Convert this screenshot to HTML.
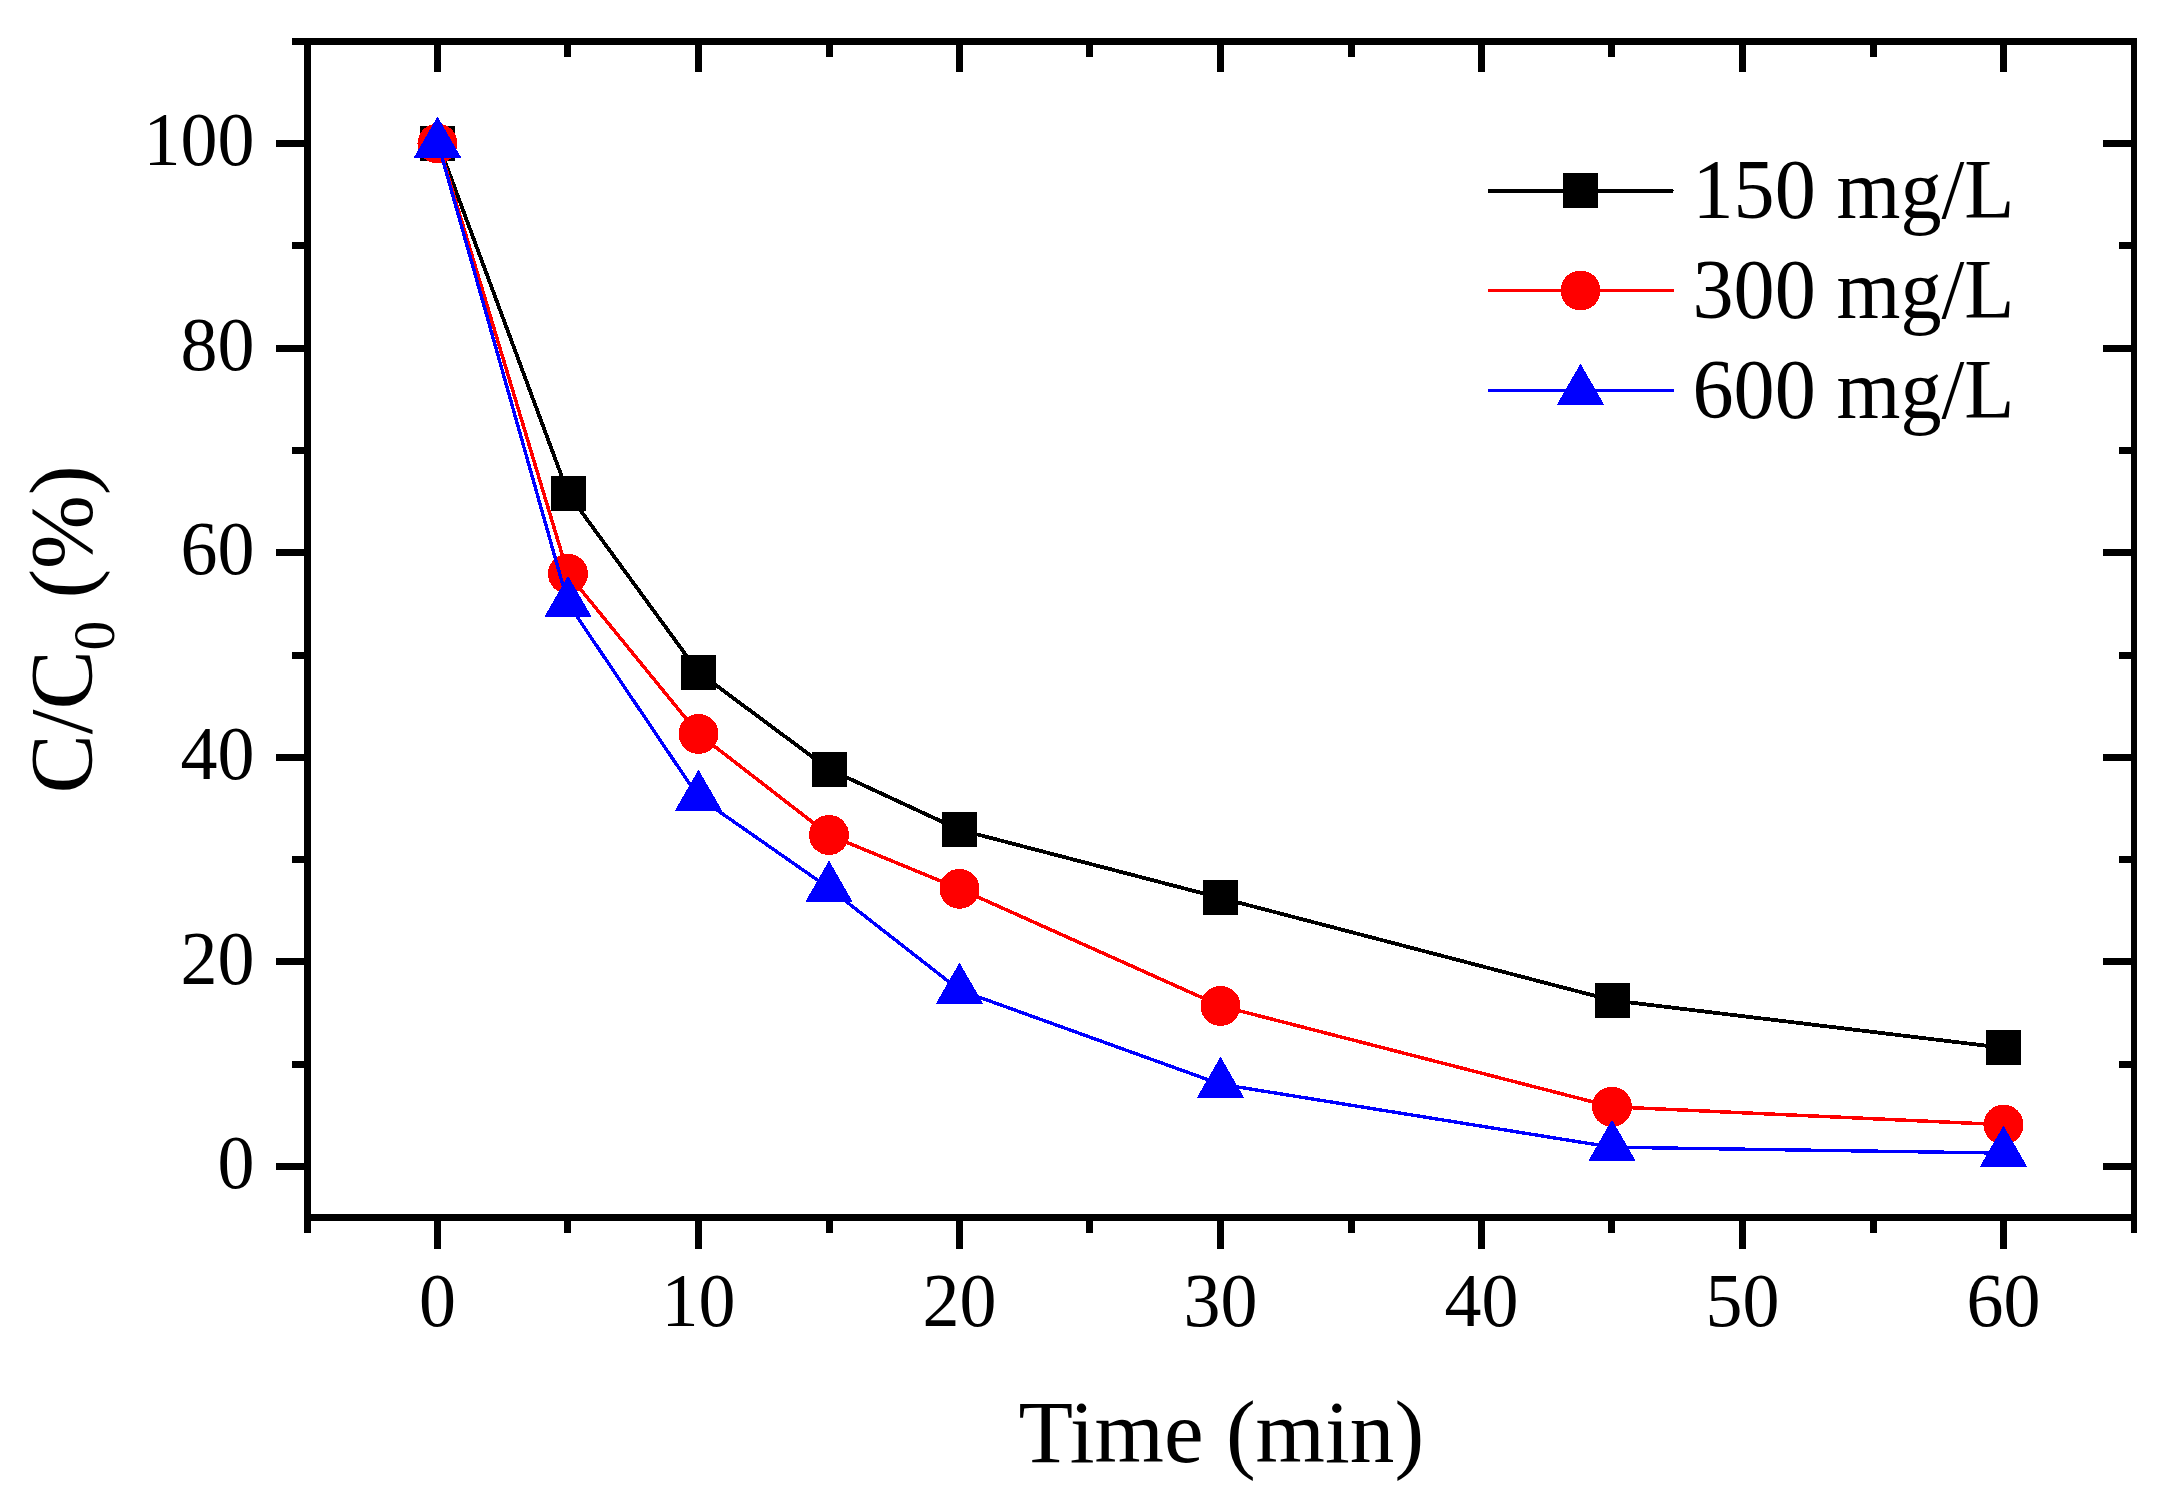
<!DOCTYPE html>
<html><head><meta charset="utf-8"><title>C/C0 vs Time</title>
<style>html,body{margin:0;padding:0;background:#fff}svg{display:block}text{font-family:"Liberation Serif","Times New Roman",serif;fill:#000}</style></head><body>
<svg width="2179" height="1507" viewBox="0 0 2179 1507">
<rect width="2179" height="1507" fill="#fff"/>
<g shape-rendering="crispEdges">
<polyline points="438.3,143.5 568.0,493.3 698.5,672.2 829.0,769.2 959.5,829.8 1220.5,897.9 1612.0,1000.3 2003.5,1047.8" fill="none" stroke="#000" stroke-width="3.8" stroke-linejoin="round"/>
<rect x="420.0" y="126.0" width="35" height="35" fill="#000"/>
<rect x="550.5" y="475.8" width="35" height="35" fill="#000"/>
<rect x="681.0" y="654.7" width="35" height="35" fill="#000"/>
<rect x="811.5" y="751.7" width="35" height="35" fill="#000"/>
<rect x="942.0" y="812.3" width="35" height="35" fill="#000"/>
<rect x="1203.0" y="880.4" width="35" height="35" fill="#000"/>
<rect x="1594.5" y="982.8" width="35" height="35" fill="#000"/>
<rect x="1986.0" y="1030.3" width="35" height="35" fill="#000"/>
<polyline points="438.3,143.5 568.0,573.9 698.5,733.9 829.0,835.0 959.5,888.8 1220.5,1005.9 1612.0,1106.8 2003.5,1124.7" fill="none" stroke="#ff0000" stroke-width="3.5" stroke-linejoin="round"/>
<circle cx="437.5" cy="143.5" r="20" fill="#ff0000"/>
<circle cx="568.0" cy="573.9" r="20" fill="#ff0000"/>
<circle cx="698.5" cy="733.9" r="20" fill="#ff0000"/>
<circle cx="829.0" cy="835.0" r="20" fill="#ff0000"/>
<circle cx="959.5" cy="888.8" r="20" fill="#ff0000"/>
<circle cx="1220.5" cy="1005.9" r="20" fill="#ff0000"/>
<circle cx="1612.0" cy="1106.8" r="20" fill="#ff0000"/>
<circle cx="2003.5" cy="1124.7" r="20" fill="#ff0000"/>
<polyline points="438.3,144.0 568.0,603.2 698.5,797.1 829.0,888.1 959.5,990.1 1220.5,1084.2 1612.0,1147.2 2003.5,1153.1" fill="none" stroke="#0000ff" stroke-width="3.4" stroke-linejoin="round"/>
<polygon points="437.5,117.5 414.6,157.3 460.4,157.3" fill="#0000ff" stroke="#0000ff" stroke-width="1" stroke-linejoin="round"/>
<polygon points="568.0,576.7 545.1,616.5 590.9,616.5" fill="#0000ff" stroke="#0000ff" stroke-width="1" stroke-linejoin="round"/>
<polygon points="698.5,770.6 675.6,810.4 721.4,810.4" fill="#0000ff" stroke="#0000ff" stroke-width="1" stroke-linejoin="round"/>
<polygon points="829.0,861.6 806.1,901.4 851.9,901.4" fill="#0000ff" stroke="#0000ff" stroke-width="1" stroke-linejoin="round"/>
<polygon points="959.5,963.6 936.6,1003.4 982.4,1003.4" fill="#0000ff" stroke="#0000ff" stroke-width="1" stroke-linejoin="round"/>
<polygon points="1220.5,1057.7 1197.6,1097.5 1243.4,1097.5" fill="#0000ff" stroke="#0000ff" stroke-width="1" stroke-linejoin="round"/>
<polygon points="1612.0,1120.7 1589.1,1160.5 1634.9,1160.5" fill="#0000ff" stroke="#0000ff" stroke-width="1" stroke-linejoin="round"/>
<polygon points="2003.5,1126.6 1980.6,1166.4 2026.4,1166.4" fill="#0000ff" stroke="#0000ff" stroke-width="1" stroke-linejoin="round"/>
</g>
<g fill="#000" shape-rendering="crispEdges">
<rect x="304" y="38" width="7" height="1195"/>
<rect x="2131" y="38" width="6" height="1195"/>
<rect x="292" y="38" width="1845" height="7"/>
<rect x="304" y="1214" width="1833" height="7"/>
<rect x="434" y="1221" width="7" height="28"/>
<rect x="434" y="45" width="7" height="27"/>
<rect x="695" y="1221" width="7" height="28"/>
<rect x="695" y="45" width="7" height="27"/>
<rect x="956" y="1221" width="7" height="28"/>
<rect x="956" y="45" width="7" height="27"/>
<rect x="1217" y="1221" width="7" height="28"/>
<rect x="1217" y="45" width="7" height="27"/>
<rect x="1478" y="1221" width="7" height="28"/>
<rect x="1478" y="45" width="7" height="27"/>
<rect x="1739" y="1221" width="7" height="28"/>
<rect x="1739" y="45" width="7" height="27"/>
<rect x="2000" y="1221" width="7" height="28"/>
<rect x="2000" y="45" width="7" height="27"/>
<rect x="564" y="1221" width="7" height="12"/>
<rect x="564" y="45" width="7" height="12"/>
<rect x="826" y="1221" width="7" height="12"/>
<rect x="826" y="45" width="7" height="12"/>
<rect x="1086" y="1221" width="7" height="12"/>
<rect x="1086" y="45" width="7" height="12"/>
<rect x="1348" y="1221" width="7" height="12"/>
<rect x="1348" y="45" width="7" height="12"/>
<rect x="1608" y="1221" width="7" height="12"/>
<rect x="1608" y="45" width="7" height="12"/>
<rect x="1870" y="1221" width="7" height="12"/>
<rect x="1870" y="45" width="7" height="12"/>
<rect x="276" y="1163" width="28" height="7"/>
<rect x="2103" y="1163" width="28" height="7"/>
<rect x="276" y="958" width="28" height="7"/>
<rect x="2103" y="958" width="28" height="7"/>
<rect x="276" y="754" width="28" height="7"/>
<rect x="2103" y="754" width="28" height="7"/>
<rect x="276" y="549" width="28" height="7"/>
<rect x="2103" y="549" width="28" height="7"/>
<rect x="276" y="345" width="28" height="7"/>
<rect x="2103" y="345" width="28" height="7"/>
<rect x="276" y="140" width="28" height="7"/>
<rect x="2103" y="140" width="28" height="7"/>
<rect x="292" y="1061" width="12" height="7"/>
<rect x="2119" y="1061" width="12" height="7"/>
<rect x="292" y="856" width="12" height="7"/>
<rect x="2119" y="856" width="12" height="7"/>
<rect x="292" y="652" width="12" height="7"/>
<rect x="2119" y="652" width="12" height="7"/>
<rect x="292" y="447" width="12" height="7"/>
<rect x="2119" y="447" width="12" height="7"/>
<rect x="292" y="242" width="12" height="7"/>
<rect x="2119" y="242" width="12" height="7"/>
</g>
<g font-size="74">
<text transform="translate(437.5,1326.2) scale(1,1.027)" text-anchor="middle">0</text>
<text transform="translate(698.5,1326.2) scale(1,1.027)" text-anchor="middle">10</text>
<text transform="translate(959.5,1326.2) scale(1,1.027)" text-anchor="middle">20</text>
<text transform="translate(1220.5,1326.2) scale(1,1.027)" text-anchor="middle">30</text>
<text transform="translate(1481.5,1326.2) scale(1,1.027)" text-anchor="middle">40</text>
<text transform="translate(1742.5,1326.2) scale(1,1.027)" text-anchor="middle">50</text>
<text transform="translate(2003.5,1326.2) scale(1,1.027)" text-anchor="middle">60</text>
<text transform="translate(254.5,1188.2) scale(1,1.027)" text-anchor="end">0</text>
<text transform="translate(254.5,983.6) scale(1,1.027)" text-anchor="end">20</text>
<text transform="translate(254.5,779.0) scale(1,1.027)" text-anchor="end">40</text>
<text transform="translate(254.5,574.4) scale(1,1.027)" text-anchor="end">60</text>
<text transform="translate(254.5,369.8) scale(1,1.027)" text-anchor="end">80</text>
<text transform="translate(254.5,165.2) scale(1,1.027)" text-anchor="end">100</text>
</g>
<text transform="translate(1221.3,1462.2) scale(1.014,1)" font-size="88" text-anchor="middle">Time (min)</text>
<text transform="translate(91,629.5) rotate(-90) scale(1.008,1)" font-size="88" text-anchor="middle">C/C<tspan font-size="59" dy="23">0</tspan><tspan dy="-23"> (%)</tspan></text>
<g shape-rendering="crispEdges">
<line x1="1490" y1="190.9" x2="1671.5" y2="190.9" stroke="#000" stroke-width="4.4" stroke-linecap="round"/>
<rect x="1563.0" y="173.0" width="35" height="35" fill="#000"/>
<line x1="1488" y1="290.5" x2="1673.7" y2="290.5" stroke="#ff0000" stroke-width="3.5"/>
<circle cx="1580.5" cy="290.5" r="20" fill="#ff0000"/>
<line x1="1488" y1="390.5" x2="1673.7" y2="390.5" stroke="#0000ff" stroke-width="3.4"/>
<polygon points="1580.5,364.6 1557.6,404.4 1603.4,404.4" fill="#0000ff" stroke="#0000ff" stroke-width="1" stroke-linejoin="round"/>
</g>
<text transform="translate(1692.5,218) scale(1.003,1.02)" font-size="82">150 mg/L</text>
<text transform="translate(1692.5,318) scale(1.003,1.02)" font-size="82">300 mg/L</text>
<text transform="translate(1692.5,418) scale(1.003,1.02)" font-size="82">600 mg/L</text>
</svg></body></html>
